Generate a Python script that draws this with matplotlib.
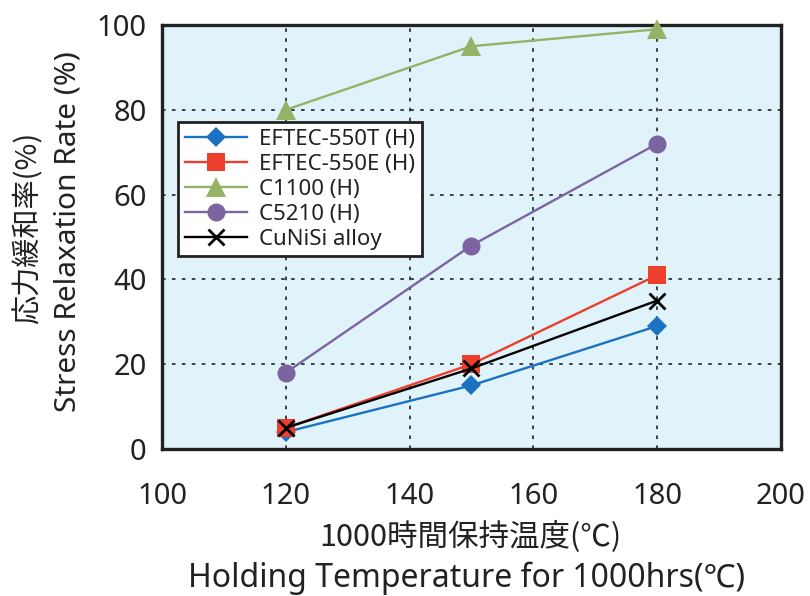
import matplotlib
matplotlib.use("Agg")
import matplotlib.pyplot as plt

plt.rcParams['font.family'] = ['Noto Sans', 'Noto Sans CJK JP', 'DejaVu Sans']

temps = [120, 150, 180]
eftec_550t = [4, 15, 29]
eftec_550e = [5, 20, 41]
c1100 = [80, 95, 99]
c5210 = [18, 48, 72]
cunisi = [5, 19, 35]

series = [
    ("EFTEC-550T (H)", eftec_550t, "#1a72c0", "D", 10),
    ("EFTEC-550E (H)", eftec_550e, "#ee3f2d", "s", 13.5),
    ("C1100 (H)", c1100, "#94b366", "^", 14),
    ("C5210 (H)", c5210, "#7c64a0", "o", 13),
    ("CuNiSi alloy", cunisi, "#000000", "x", 12),
]

xticks = [100, 120, 140, 160, 180, 200]
yticks = [0, 20, 40, 60, 80, 100]

TXT = "#222222"
fig = plt.figure(figsize=(8.1, 5.96), dpi=100)
ax = fig.add_axes([0.2, 0.2466, 0.764, 0.7114])
ax.set_facecolor("#e0f3fb")

for label, vals, col, mk, ms in series:
    ax.plot(temps, vals, color=col, marker=mk, markersize=ms, lw=1.7,
            markeredgewidth=2 if mk == "x" else 0, label=label,
            clip_on=False, zorder=3)

ax.set_xlim(100, 200)
ax.set_ylim(0, 100)
ax.set_xticks(xticks)
ax.set_yticks(yticks)
ax.grid(True, color="#333333", linestyle=(0, (2, 3.5)), linewidth=1.3)
ax.tick_params(length=0, labelsize=21, colors=TXT)
ax.tick_params(axis="x", pad=24)
ax.tick_params(axis="y", pad=11)
for s in ax.spines.values():
    s.set_linewidth(2.4)
    s.set_color(TXT)

cjk = ['Noto Sans CJK JP', 'DejaVu Sans']
fig.text(28 / 810, 1 - 228 / 596, "応力緩和率(%)", rotation=90, fontsize=21,
         family=cjk, color=TXT, ha="center", va="center")
fig.text(68 / 810, 1 - 232 / 596, "Stress Relaxation Rate (%)", rotation=90,
         fontsize=21.5, color=TXT, ha="center", va="center")
fig.text(470 / 810, 1 - 537 / 596, "1000時間保持温度(℃)", fontsize=22,
         family=cjk, color=TXT, ha="center", va="center")
fig.text(466 / 810, 1 - 578 / 596, "Holding Temperature for 1000hrs(℃)",
         fontsize=23, color=TXT, ha="center", va="center")

leg = ax.legend(loc="upper left", bbox_to_anchor=(0.026, 0.771), fontsize=16,
                frameon=True, fancybox=False, edgecolor=TXT,
                handlelength=2.8, borderpad=0.3, labelspacing=0.18,
                handletextpad=0.55, borderaxespad=0)
leg.get_frame().set_linewidth(2)
leg.get_frame().set_facecolor("white")
leg.get_frame().set_alpha(1)
for t in leg.get_texts():
    t.set_color(TXT)

fig.savefig("out.png", dpi=100)
